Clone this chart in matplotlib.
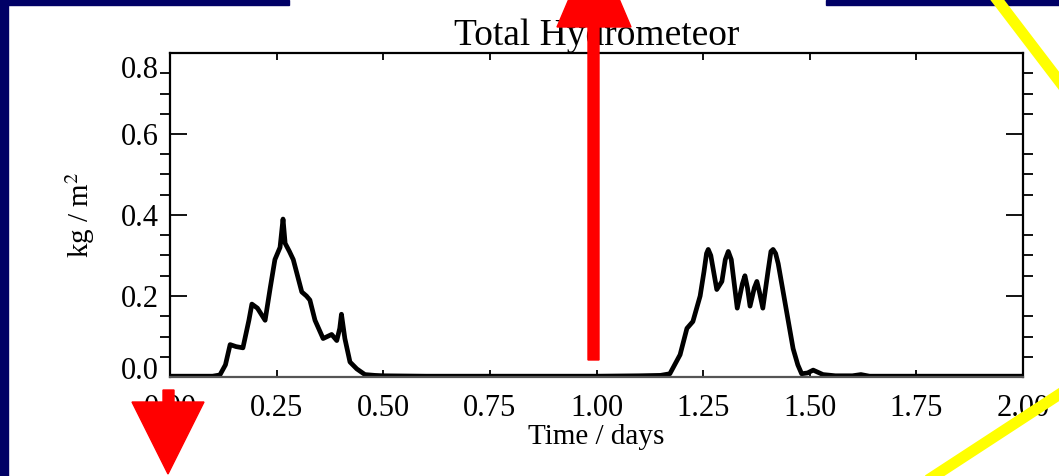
import matplotlib
matplotlib.use("Agg")
import matplotlib.pyplot as plt
from matplotlib.patches import Polygon, Rectangle
from matplotlib.lines import Line2D
from matplotlib.ticker import MultipleLocator
from matplotlib.transforms import ScaledTranslation

# total hydrometeor path over two days
time_days = [0.00, 0.05, 0.10, 0.117, 0.13, 0.141, 0.155, 0.171, 0.185, 0.192, 0.205, 0.223,
             0.235, 0.246, 0.258, 0.262, 0.265, 0.270, 0.28, 0.289, 0.309, 0.320, 0.328, 0.340,
             0.359, 0.379, 0.391, 0.398, 0.402, 0.410, 0.422, 0.438, 0.457, 0.48, 0.50,
             0.60, 0.75, 0.90, 1.00, 1.10, 1.15, 1.172, 1.196, 1.212, 1.226, 1.243, 1.252,
             1.258, 1.262, 1.268, 1.282, 1.294, 1.302, 1.309, 1.316, 1.330, 1.342, 1.348,
             1.354, 1.360, 1.370, 1.376, 1.382, 1.390, 1.402, 1.409, 1.414, 1.420,
             1.426, 1.446, 1.461, 1.472, 1.481, 1.495, 1.508, 1.531, 1.56, 1.60, 1.62,
             1.64, 1.75, 1.90, 2.00]
hydrometeor = [0.002, 0.002, 0.002, 0.005, 0.03, 0.08, 0.075, 0.072, 0.14, 0.18, 0.17, 0.14,
               0.22, 0.29, 0.32, 0.36, 0.39, 0.33, 0.31, 0.29, 0.21, 0.20, 0.19, 0.14,
               0.095, 0.105, 0.09, 0.12, 0.155, 0.095, 0.037, 0.02, 0.006, 0.004, 0.003,
               0.002, 0.002, 0.002, 0.002, 0.003, 0.004, 0.008, 0.055, 0.12, 0.137, 0.20, 0.26,
               0.305, 0.315, 0.30, 0.216, 0.236, 0.29, 0.31, 0.29, 0.17, 0.23, 0.25,
               0.22, 0.175, 0.22, 0.236, 0.21, 0.17, 0.26, 0.31, 0.315, 0.305,
               0.28, 0.16, 0.07, 0.03, 0.008, 0.01, 0.017, 0.006, 0.003, 0.003, 0.006,
               0.002, 0.002, 0.002, 0.002]

xtick_vals = [0.0, 0.25, 0.5, 0.75, 1.0, 1.25, 1.5, 1.75, 2.0]
xtick_labels = ["0.00", "0.25", "0.50", "0.75", "1.00", "1.25", "1.50", "1.75", "2.00"]
ytick_vals = [0.0, 0.2, 0.4, 0.6, 0.8]
ytick_labels = ["0.0", "0.2", "0.4", "0.6", "0.8"]

W, H = 1059, 476
NAVY = "#000066"

plt.rcParams["font.family"] = ["Liberation Serif", "DejaVu Serif"]
plt.rcParams["mathtext.fontset"] = "stix"

fig = plt.figure(figsize=(W / 100, H / 100), dpi=100)
fig.patch.set_facecolor("white")


def px(x, y):
    # pixel position -> figure fraction
    return (x / W, 1 - y / H)


# slide frame
for x0, y0, x1, y1 in [(0, 0, 8, H), (0, 0, 289, 5), (826, 0, W, 5)]:
    (fx0, fy1), (fx1, fy0) = px(x0, y0), px(x1, y1)
    fig.patches.append(Rectangle((fx0, fy0), fx1 - fx0, fy1 - fy0,
                                 transform=fig.transFigure, color=NAVY, zorder=0))

ax = fig.add_axes([170 / W, 1 - 377 / H, (1023 - 170) / W, (377 - 53) / H])
ax.plot(time_days, hydrometeor, color="black", lw=3.4,
        solid_joinstyle="round", solid_capstyle="round")
ax.set_xlim(0, 2)
ax.set_ylim(0, 0.8)
ax.set_xticks(xtick_vals, xtick_labels)
ax.set_yticks(ytick_vals, ytick_labels)
ax.yaxis.set_minor_locator(MultipleLocator(0.05))
ax.tick_params(direction="in", top=True, right=True, labelsize=22, width=1.3)
ax.tick_params(axis="x", which="major", length=5, pad=12)
ax.tick_params(axis="y", which="major", length=12, pad=8)
ax.tick_params(axis="y", which="minor", length=7, width=1.3, right=True)
for s in ax.spines.values():
    s.set_linewidth(1.6)
ax.spines["bottom"].set_color("#555555")

# end labels sit inside the axis range
nudges = {0: 9, 4: -14}
for i, lab in enumerate(ax.get_yticklabels()):
    if i in nudges:
        lab.set_transform(lab.get_transform() +
                          ScaledTranslation(0, nudges[i] / 100, fig.dpi_scale_trans))

ax.set_title("Total Hydrometeor", fontsize=27, pad=6)
ax.set_xlabel("Time / days", fontsize=21, labelpad=1)
ax.set_ylabel("kg / m$^2$", fontsize=21, labelpad=17)

# red arrows
up = [(588, 360), (599, 360), (599, 27), (631, 27), (594, -60), (557, 27), (588, 27)]
down = [(163, 390), (174, 390), (174, 402), (204, 402), (168, 474), (132, 402), (163, 402)]
for pts in (up, down):
    fig.patches.append(Polygon([px(*p) for p in pts], closed=True,
                               transform=fig.transFigure, color="#ff0000", zorder=5))

# yellow strokes at the right edge
for (xa, ya), (xb, yb) in [((992, -7), (1066, 90)), ((925, 482), (1066, 390))]:
    (fxa, fya), (fxb, fyb) = px(xa, ya), px(xb, yb)
    fig.lines.append(Line2D([fxa, fxb], [fya, fyb], transform=fig.transFigure,
                            color="#ffff00", lw=8, zorder=5))

fig.savefig("out.png", dpi=100)
